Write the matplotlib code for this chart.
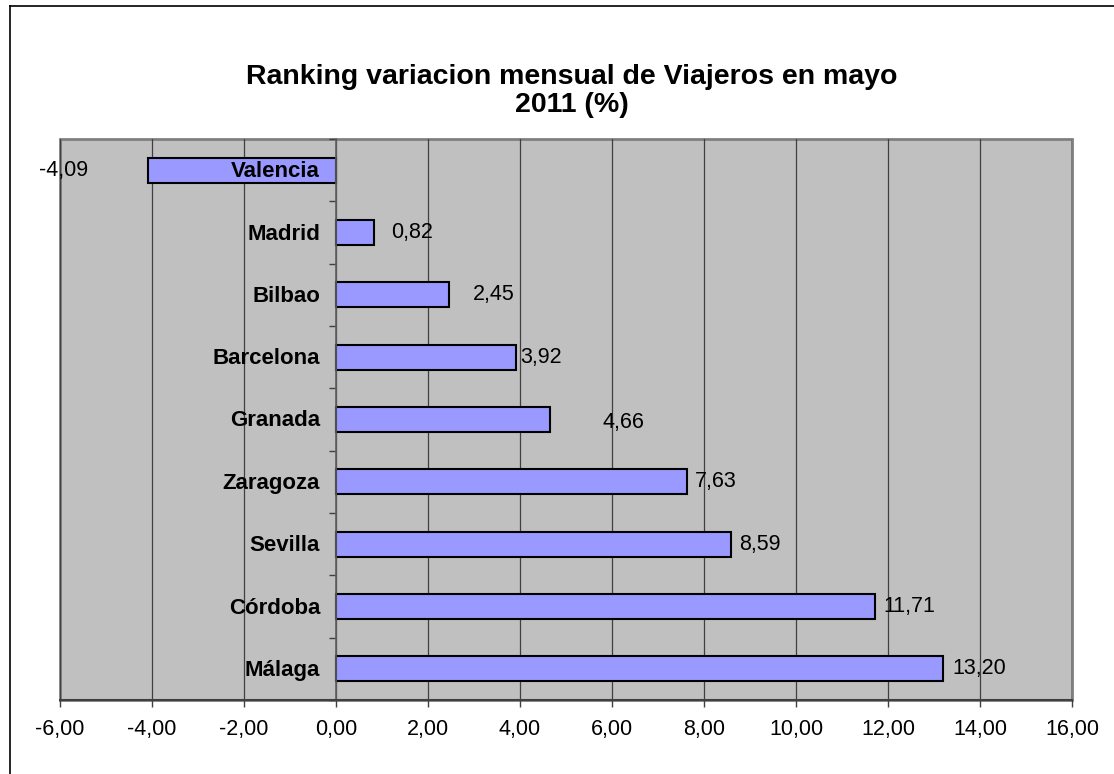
import matplotlib
matplotlib.use("Agg")
import matplotlib.pyplot as plt
from matplotlib.lines import Line2D
from matplotlib.ticker import FixedLocator

plt.rcParams['font.family'] = ['Liberation Sans', 'DejaVu Sans']

# ---- data ----
cities = ["Valencia", "Madrid", "Bilbao", "Barcelona", "Granada",
          "Zaragoza", "Sevilla", "Córdoba", "Málaga"]
values = [-4.09, 0.82, 2.45, 3.92, 4.66, 7.63, 8.59, 11.71, 13.20]
value_labels = ["-4,09", "0,82", "2,45", "3,92", "4,66",
                "7,63", "8,59", "11,71", "13,20"]
xticks = [-6, -4, -2, 0, 2, 4, 6, 8, 10, 12, 14, 16]
xtick_labels = ["-6,00", "-4,00", "-2,00", "0,00", "2,00", "4,00", "6,00",
                "8,00", "10,00", "12,00", "14,00", "16,00"]
title = "Ranking variacion mensual de Viajeros en mayo\n2011 (%)"

# label offsets (pixels) relative to the bar end, as placed in the original
label_dx = [-60, 17, 24, 4, 52, 8, 8, 9, 9]
label_dy = [0, 0, 0, 0, -3, 0, 0, 0, 0]

W, H = 1114, 774
PT = 0.72  # points per pixel at 100 dpi
fig = plt.figure(figsize=(W / 100, H / 100), dpi=100)
ax = fig.add_axes([60 / W, (H - 700) / H, (1072 - 60) / W, (700 - 139) / H])

ypos = list(range(len(cities)))
ax.barh(ypos, values, height=0.4, color="#9999FF", edgecolor="black",
        linewidth=1.5, zorder=2)

ax.set_xlim(-6, 16)
ax.set_ylim(len(cities) - 0.5, -0.5)

ax.set_facecolor("#C0C0C0")
ax.patch.set_edgecolor("#808080")
ax.patch.set_linewidth(2)

ax.set_axisbelow(True)
ax.xaxis.set_major_locator(FixedLocator(xticks))
ax.set_xticklabels(xtick_labels, fontsize=15.5)
ax.grid(axis="x", color="#404040", linewidth=0.9)
ax.tick_params(axis="x", direction="out", length=5, width=1, color="#404040",
               pad=9)

for s in ["top", "right"]:
    ax.spines[s].set_visible(False)
ax.spines["bottom"].set_color("#404040")
ax.spines["bottom"].set_linewidth(1.5)
ax.spines["left"].set_position(("data", 0))
ax.spines["left"].set_color("#606060")
ax.spines["left"].set_linewidth(1.2)

ax.set_yticks(ypos)
ax.set_yticklabels([])
ax.tick_params(axis="y", which="major", length=0)
ax.yaxis.set_minor_locator(FixedLocator([i - 0.5 for i in range(len(cities) + 1)]))
ax.tick_params(axis="y", which="minor", length=5, width=1, color="#404040",
               direction="out")

# category labels drawn at the zero axis, above the bars
for i, name in enumerate(cities):
    ax.annotate(name, xy=(0, i), xytext=(-16 * PT, -1.5 * PT),
                textcoords="offset points", ha="right", va="center",
                fontsize=16, fontweight="bold", annotation_clip=False, zorder=6)

for i, (v, lab) in enumerate(zip(values, value_labels)):
    ha = "right" if v < 0 else "left"
    ax.annotate(lab, xy=(v, i), xytext=(label_dx[i] * PT, label_dy[i] * PT),
                textcoords="offset points", ha=ha, va="center", fontsize=15.5,
                annotation_clip=False, zorder=5)

fig.text(572 / W, 1 - 91 / H, title, ha="center", va="center",
         fontsize=20.5, fontweight="bold", linespacing=1.12)

# outer chart frame (left and top edges visible)
fig.add_artist(Line2D([10 / W, 10 / W], [0, 1 - 6 / H], transform=fig.transFigure,
                      color="black", linewidth=1.2))
fig.add_artist(Line2D([10 / W, 1], [1 - 6 / H, 1 - 6 / H], transform=fig.transFigure,
                      color="black", linewidth=1.2))

fig.savefig("out.png", dpi=100, facecolor="white")
